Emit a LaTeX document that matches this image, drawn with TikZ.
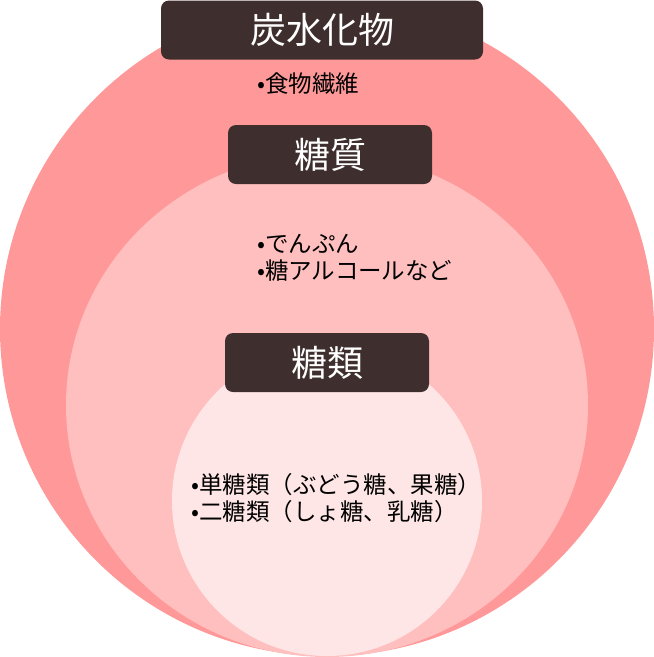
\documentclass[tikz,border=0pt]{standalone}
\usepackage{fontspec}
\newfontfamily\jpfont{Noto Sans CJK JP}
\usepackage{tikz}
\usetikzlibrary{positioning}
\definecolor{carbred}{HTML}{FF9999}
\definecolor{sugarpink}{HTML}{FFBFBF}
\definecolor{saccpink}{HTML}{FFE6E6}
\definecolor{labelbrown}{HTML}{3F2E2E}
\tikzstyle{lblock} = [rectangle, fill=labelbrown, text=white, rounded corners=8pt,
minimum height=59pt, inner sep=0pt, font=\jpfont\fontsize{36}{40}\selectfont]
\tikzstyle{itemtext} = [align=left, anchor=west, inner sep=0pt,
font=\jpfont\fontsize{23.5}{27}\selectfont]

\begin{document}
\begin{tikzpicture}[x=1pt, y=-1pt]
        \useasboundingbox (0,0) rectangle (654,657);
        \fill [carbred] (327,329) circle [radius=327pt];
        \fill [sugarpink] (327,405) ellipse [x radius=261pt, y radius=252pt];
        \fill [saccpink] (327,501) circle [radius=155pt];

        \node (Carb) [lblock, minimum width=322pt] at (322,30) {炭水化物};
        \node (Sugar) [lblock, minimum width=204pt] at (330,154.5) {糖質};
        \node (Saccharide) [lblock, minimum width=204pt] at (327,362.5) {糖類};

        \node (CarbItems) [itemtext] at (257,84) {•食物繊維};
        \node (SugarItems) [itemtext] at (257,257.5) {•でんぷん\\•糖アルコールなど};
        \node (SaccItems) [itemtext] at (191,498.5) {•単糖類（ぶどう糖、果糖）\\•二糖類（しょ糖、乳糖）};
\end{tikzpicture}
\end{document}
